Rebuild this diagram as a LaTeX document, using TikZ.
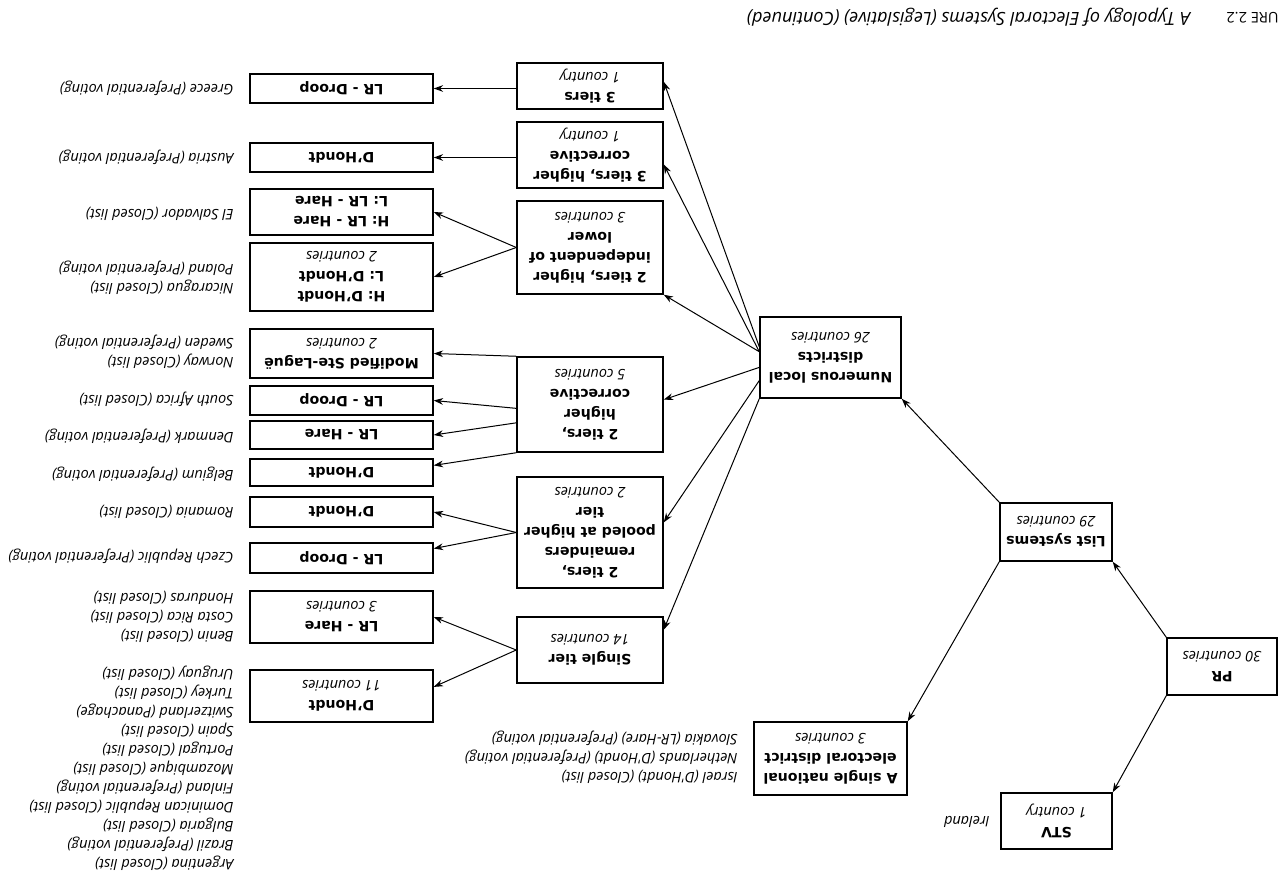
\documentclass[tikz,border=0pt]{standalone}
\usepackage{fontspec}
\setmainfont{DejaVu Sans}
\newfontfamily\itfam{Open Sans}
\usetikzlibrary{arrows.meta,calc}
\newcommand\bxf{\fontsize{10.6}{15}\selectfont\bfseries}
\newcommand\itf{\itfam\itshape\fontsize{10.9}{14.25}\selectfont}
\newcommand\cnt[1]{{\itfam\itshape\mdseries\fontsize{10.9}{15}\selectfont #1}}
\tikzset{
  box/.style={draw, line width=1.1pt, rotate=180, align=center, inner sep=0pt, font=\bxf},
  sz/.style 2 args={minimum width=#1*0.75pt, minimum height=#2*0.75pt},
  lab/.style={rotate=180, align=left, inner sep=0pt, anchor=west, font=\itf},
  captext/.style={rotate=180, inner sep=0pt, anchor=west, font=\itfam\fontsize{11}{14}\selectfont},
  con/.style={line width=0.75pt, -{Stealth[length=7pt,width=5pt]}}
}
\begin{document}
\begin{tikzpicture}[x=0.75pt, y=-0.75pt]
\fill[white] (0,0) rectangle (1278,873);
\useasboundingbox (0,0) rectangle (1278,873);

% caption
\node[captext] (caption) at (1279,17) {URE 2.2\hspace{27pt}{\itshape\fontsize{13.6}{16}\selectfont A Typology of Electoral Systems (Legislative) (Continued)}};

% main boxes
\node[box, sz={110}{57}] (pr) at (1222,666.5) {PR\\\cnt{30 countries}};
\node[box, sz={111}{56}] (stv) at (1056.5,821) {STV\\\cnt{1 country}};
\node[box, sz={112}{58}] (list) at (1056,532) {List systems\\\cnt{29 countries}};
\node[box, sz={153}{73}] (natl) at (830.5,758.5) {A single national\\electoral district\\\cnt{3 countries}};
\node[box, sz={141}{81}] (num) at (830.5,357.5) {Numerous local\\districts\\\cnt{26 countries}};

\node[box, sz={146}{46}] (t3) at (590,86) {3 tiers\\\cnt{1 country}};
\node[box, sz={146}{66}] (t3hc) at (590,155) {3 tiers, higher\\corrective\\\cnt{1 country}};
\node[box, sz={146}{93}] (t2ind) at (590,247.5) {2 tiers, higher\\independent of\\lower\\\cnt{3 countries}};
\node[box, sz={146}{95}] (t2hc) at (590,404.5) {2 tiers,\\higher\\corrective\\\cnt{5 countries}};
\node[box, sz={146}{111}] (t2rem) at (590,532.5) {2 tiers,\\remainders\\pooled at higher\\tier\\\cnt{2 countries}};
\node[box, sz={146}{66}] (t1) at (590,650) {Single tier\\\cnt{14 countries}};

% formula boxes
\node[box, sz={183}{29}] (gr) at (341.5,88.5) {LR - Droop};
\node[box, sz={183}{29}] (au) at (341.5,157.5) {D'Hondt};
\node[box, sz={183}{46}] (sv) at (341.5,212) {H: LR - Hare\\L: LR - Hare};
\node[box, sz={183}{68}] (np) at (341.5,277) {H: D'Hondt\\L: D'Hondt\\\cnt{2 countries}};
\node[box, sz={183}{49}] (ns) at (341.5,353.5) {Modified Ste-Laguë\\\cnt{2 countries}};
\node[box, sz={183}{29}] (za) at (341.5,400.5) {LR - Droop};
\node[box, sz={183}{28}] (dk) at (341.5,435) {LR - Hare};
\node[box, sz={183}{27}] (be) at (341.5,472.5) {D'Hondt};
\node[box, sz={183}{30}] (ro) at (341.5,512) {D'Hondt};
\node[box, sz={183}{30}] (cz) at (341.5,558) {LR - Droop};
\node[box, sz={183}{52}] (h3) at (341.5,617) {LR - Hare\\\cnt{3 countries}};
\node[box, sz={183}{52}] (d11) at (341.5,696) {D'Hondt\\\cnt{11 countries}};

% country labels
\node[lab] (lgr) at (234,88) {Greece (Preferential voting)};
\node[lab] (lau) at (234,157) {Austria (Preferential voting)};
\node[lab] (lsv) at (234,214) {El Salvador (Closed list)};
\node[lab] (lnp) at (234,277.5) {Nicaragua (Closed list)\\Poland (Preferential voting)};
\node[lab] (lns) at (234,352) {Norway (Closed list)\\Sweden (Preferential voting)};
\node[lab] (lza) at (234,399) {South Africa (Closed list)};
\node[lab] (ldk) at (234,436) {Denmark (Preferential voting)};
\node[lab] (lbe) at (234,474) {Belgium (Preferential voting)};
\node[lab] (lro) at (234,512) {Romania (Closed list)};
\node[lab] (lcz) at (234,556) {Czech Republic (Preferential voting)};
\node[lab] (lh3) at (234,617) {Benin (Closed list)\\Costa Rica (Closed list)\\Honduras (Closed list)};
\node[lab] (ld11) at (234,768) {Argentina (Closed list)\\Brazil (Preferential voting)\\Bulgaria (Closed list)\\Dominican Republic (Closed list)\\Finland (Preferential voting)\\Mozambique (Closed list)\\Portugal (Closed list)\\Spain (Closed list)\\Switzerland (Panachage)\\Turkey (Closed list)\\Uruguay (Closed list)};
\node[lab] (lnatl) at (738,757) {Israel (D'Hondt) (Closed list)\\Netherlands (D'Hondt) (Preferential voting)\\Slovakia (LR-Hare) (Preferential voting)};
\node[lab] (lstv) at (990,822) {Ireland};

% connectors
\draw[con] (pr.north east) -- (stv.south west);
\draw[con] (pr.south east) -- (list.north west);
\draw[con] (list.south east) -- (num.north west);
\draw[con] (list.north east) -- (natl.south west);

\draw[con] ($(num.south east)!0.37!(num.north east)$) -- ($(t3.south west)!0.41!(t3.north west)$);
\draw[con] ($(num.south east)!0.43!(num.north east)$) -- ($(t3hc.south west)!0.64!(t3hc.north west)$);
\draw[con] ($(num.south east)!0.43!(num.north east)$) -- (t2ind.north west);
\draw[con] ($(num.south east)!0.62!(num.north east)$) -- ($(t2hc.south west)!0.45!(t2hc.north west)$);
\draw[con] ($(num.south east)!0.78!(num.north east)$) -- ($(t2rem.south west)!0.41!(t2rem.north west)$);
\draw[con] (num.north east) -- ($(t1.south west)!0.2!(t1.north west)$);

\draw[con] (t3.east |- gr.west) -- (gr.west);
\draw[con] (t3hc.east |- au.west) -- (au.west);
\draw[con] (t2ind.east) -- (sv.west);
\draw[con] (t2ind.east) -- (np.west);
\draw[con] (t2hc.south east) -- (ns.west);
\draw[con] ($(t2hc.south east)!0.54!(t2hc.north east)$) -- (za.west);
\draw[con] ($(t2hc.south east)!0.69!(t2hc.north east)$) -- (dk.west);
\draw[con] (t2hc.north east) -- ($(be.south west)!0.25!(be.north west)$);
\draw[con] (t2rem.east) -- (ro.west);
\draw[con] (t2rem.east) -- ($(cz.south west)!0.2!(cz.north west)$);
\draw[con] (t1.east) -- (h3.west);
\draw[con] (t1.east) -- ($(d11.south west)!0.33!(d11.north west)$);
\end{tikzpicture}
\end{document}
